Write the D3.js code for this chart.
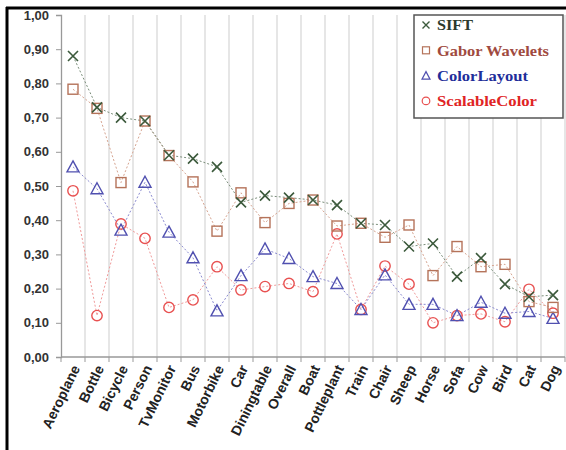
<!DOCTYPE html>
<html><head><meta charset="utf-8">
<script src="https://cdn.jsdelivr.net/npm/d3@7"></script>
<style>body{margin:0;background:#fff}svg{display:block}</style>
</head><body>
<script>
const categories = ["Aeroplane","Bottle","Bicycle","Person","TvMonitor","Bus","Motorbike","Car","Diningtable","Overall","Boat","Pottleplant","Train","Chair","Sheep","Horse","Sofa","Cow","Bird","Cat","Dog"];
const sift =          [0.88,0.73,0.70,0.69,0.59,0.58,0.556,0.452,0.472,0.466,0.459,0.444,0.391,0.386,0.323,0.332,0.235,0.289,0.213,0.176,0.181];
const gabor =         [0.783,0.727,0.51,0.69,0.589,0.512,0.368,0.48,0.393,0.449,0.459,0.383,0.391,0.35,0.386,0.238,0.323,0.264,0.271,0.162,0.145];
const colorLayout =   [0.556,0.492,0.371,0.511,0.365,0.29,0.135,0.238,0.316,0.288,0.235,0.215,0.139,0.24,0.154,0.154,0.121,0.16,0.128,0.133,0.113];
const scalableColor = [0.486,0.121,0.389,0.347,0.145,0.167,0.264,0.196,0.206,0.215,0.191,0.36,0.139,0.266,0.213,0.10,0.121,0.126,0.103,0.198,0.128];
const yTicks = [0,0.1,0.2,0.3,0.4,0.5,0.6,0.7,0.8,0.9,1.0];
const seriesNames = ["SIFT","Gabor Wavelets","ColorLayout","ScalableColor"];

const W=566,H=450;
const svg=d3.select("body").append("svg").attr("width",W).attr("height",H);
const pLeft=61,pRight=565,pTop=15,pBottom=357;
const x=d3.scaleBand().domain(categories).range([pLeft,pRight]);
const y=d3.scaleLinear().domain([0,1]).range([pBottom,pTop]);

// frame
svg.append("line").attr("x1",6).attr("x2",W).attr("y1",8).attr("y2",8).attr("stroke","#000").attr("stroke-width",3);
svg.append("line").attr("x1",7).attr("x2",7).attr("y1",7).attr("y2",H).attr("stroke","#000").attr("stroke-width",3);

// vertical gridlines at band boundaries
const bounds=categories.map(c=>x(c)).concat([pRight]);
svg.append("g").selectAll("line").data(bounds.slice(1)).join("line")
  .attr("x1",d=>d).attr("x2",d=>d).attr("y1",pTop).attr("y2",pBottom)
  .attr("stroke","#d6d6d6").attr("stroke-width",1.2);

// y axis
const yAxis=d3.axisLeft(y).tickValues(yTicks).tickSize(5).tickFormat(d=>d3.format(".2f")(d).replace(".",","));
const gy=svg.append("g").attr("transform",`translate(${pLeft},0)`).call(yAxis);
gy.select(".domain").attr("stroke","#999").attr("stroke-width",1.3);
gy.selectAll(".tick line").attr("stroke","#999");
gy.selectAll("text").attr("font-family","Liberation Sans, Arial, sans-serif").attr("font-weight","bold").attr("font-size","13px").attr("fill","#333").attr("x",-12);

// x axis
svg.append("line").attr("x1",pLeft).attr("x2",pRight).attr("y1",pBottom).attr("y2",pBottom).attr("stroke","#999").attr("stroke-width",1.3);
svg.append("g").selectAll("line").data(bounds).join("line")
  .attr("x1",d=>d).attr("x2",d=>d).attr("y1",pBottom).attr("y2",pBottom+5).attr("stroke","#999");
svg.append("g").selectAll("text").data(categories).join("text")
  .attr("transform",d=>`translate(${x(d)+x.bandwidth()/2+3},${pBottom+9}) rotate(-64)`)
  .attr("text-anchor","end").attr("dy","0.35em")
  .attr("font-family","Liberation Sans, Arial, sans-serif").attr("font-weight","bold").attr("font-size","14px").attr("fill","#222")
  .text(d=>d);

const cx=c=>x(c)+x.bandwidth()/2;
const series=[
  {name:seriesNames[0],vals:sift,color:"#3c5a3c",line:"#7a8e7a",shape:"x",text:"#2c3a2c",tl:36},
  {name:seriesNames[1],vals:gabor,color:"#b5735a",line:"#d6a490",shape:"square",text:"#a04a40",tl:112},
  {name:seriesNames[2],vals:colorLayout,color:"#5050b0",line:"#8a8ad0",shape:"tri",text:"#1e2e9a",tl:91},
  {name:seriesNames[3],vals:scalableColor,color:"#e85050",line:"#f09a9a",shape:"circle",text:"#e02424",tl:100}
];
function marker(g,shape,color,px,py){
  if(shape==="x"){
    g.append("path").attr("d",`M${px-5},${py-5}L${px+5},${py+5}M${px-5},${py+5}L${px+5},${py-5}`).attr("stroke",color).attr("stroke-width",1.6).attr("fill","none");
  } else if(shape==="square"){
    g.append("rect").attr("x",px-5).attr("y",py-5).attr("width",10).attr("height",10).attr("fill","none").attr("stroke",color).attr("stroke-width",1.4);
  } else if(shape==="tri"){
    g.append("path").attr("d",`M${px},${py-6}L${px+6},${py+5}L${px-6},${py+5}Z`).attr("fill","none").attr("stroke",color).attr("stroke-width",1.4);
  } else {
    g.append("circle").attr("cx",px).attr("cy",py).attr("r",5.2).attr("fill","none").attr("stroke",color).attr("stroke-width",1.4);
  }
}
const line=d3.line().x((d,i)=>cx(categories[i])).y(d=>y(d));
[...series].reverse().forEach(s=>{
  svg.append("path").datum(s.vals).attr("d",line).attr("fill","none").attr("stroke",s.line).attr("stroke-width",1).attr("stroke-dasharray","2,2");
});
[...series].reverse().forEach(s=>{
  const g=svg.append("g");
  s.vals.forEach((v,i)=>marker(g,s.shape,s.color,cx(categories[i]),y(v)));
});

// legend
const lg=svg.append("g");
lg.append("rect").attr("x",414).attr("y",15).attr("width",149).attr("height",103).attr("fill","#fff").attr("stroke","#555").attr("stroke-width",1.5);
series.forEach((s,i)=>{
  const yy=25+i*25.3;
  const g=lg.append("g");
  if(s.shape==="x"){
    g.append("path").attr("d",`M${426-3.5},${yy-3.5}L${426+3.5},${yy+3.5}M${426-3.5},${yy+3.5}L${426+3.5},${yy-3.5}`).attr("stroke",s.color).attr("stroke-width",1.4);
  } else if(s.shape==="square"){
    g.append("rect").attr("x",422.5).attr("y",yy-3.5).attr("width",7).attr("height",7).attr("fill","none").attr("stroke",s.color).attr("stroke-width",1.2);
  } else if(s.shape==="tri"){
    g.append("path").attr("d",`M426,${yy-4}L430,${yy+3.5}L422,${yy+3.5}Z`).attr("fill","none").attr("stroke",s.color).attr("stroke-width",1.2);
  } else {
    g.append("circle").attr("cx",426).attr("cy",yy).attr("r",3.8).attr("fill","none").attr("stroke",s.color).attr("stroke-width",1.2);
  }
  lg.append("text").attr("x",437).attr("y",yy).attr("dy","0.35em")
    .attr("font-family","Liberation Serif, Times New Roman, serif").attr("font-weight","bold").attr("font-size","15px")
    .attr("textLength",s.tl).attr("lengthAdjust","spacingAndGlyphs")
    .attr("fill",s.text).text(s.name);
});
</script>
</body></html>
